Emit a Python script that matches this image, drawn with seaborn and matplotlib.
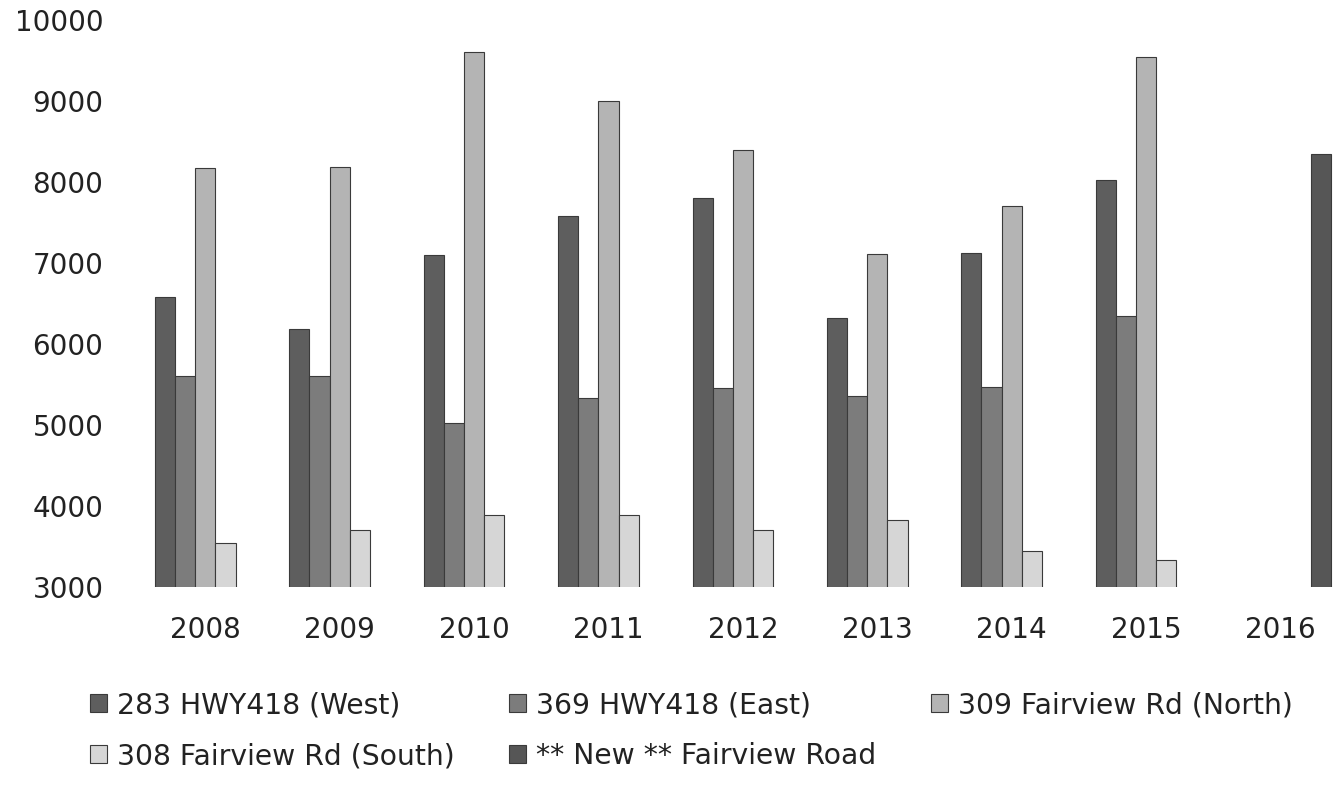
import numpy as np
import pandas as pd
import matplotlib
matplotlib.use('Agg')
import matplotlib.pyplot as plt
import seaborn as sns

# Dati
years = ['2008', '2009', '2010', '2011', '2012', '2013', '2014', '2015', '2016']
west = [6580, 6190, 7100, 7580, 7800, 6320, 7130, 8020, np.nan]
east = [5600, 5600, 5020, 5330, 5460, 5360, 5470, 6340, np.nan]
north = [8170, 8190, 9600, 9000, 8390, 7110, 7700, 9545, np.nan]
south = [3550, 3700, 3890, 3890, 3710, 3830, 3440, 3340, np.nan]
new_road = [np.nan] * 8 + [8345]

series_names = ['283 HWY418 (West)', '369 HWY418 (East)', '309 Fairview Rd (North)',
                '308 Fairview Rd (South)', '** New ** Fairview Road']
series_values = [west, east, north, south, new_road]
colors = ['#5e5e5e', '#7c7c7c', '#b4b4b4', '#d6d6d6', '#565656']

rows = []
for name, vals in zip(series_names, series_values):
    for y, v in zip(years, vals):
        rows.append({'Year': y, 'Series': name, 'Value': v})
df = pd.DataFrame(rows)

sns.set_style('white')
plt.rcParams['font.family'] = ['DejaVu Sans']

fig = plt.figure(figsize=(13.41, 7.88), dpi=100)
ax = fig.add_axes([0.103, 0.255, 0.897, 0.7196])

sns.barplot(data=df, x='Year', y='Value', hue='Series', hue_order=series_names,
            order=years, palette=colors, errorbar=None, width=0.75,
            edgecolor='#3a3a3a', linewidth=0.8, ax=ax)

ax.set_ylim(3000, 10000)
ax.set_xlim(-0.5, 8.45)
ax.set_yticks(range(3000, 10001, 1000))
ax.set_xlabel('')
ax.set_ylabel('')
ax.tick_params(axis='y', length=0, pad=25, labelsize=20, labelcolor='#222222')
ax.tick_params(axis='x', length=0, pad=21, labelsize=20, labelcolor='#222222')
sns.despine(ax=ax, left=True, bottom=True)

# legenda in basso, riempita per colonne -> riordino
handles, labels = ax.get_legend_handles_labels()
ax.get_legend().remove()
order = [0, 3, 1, 4, 2]
fig.legend([handles[i] for i in order], [labels[i] for i in order],
           loc='upper left', bbox_to_anchor=(0.048, 0.155), ncol=3, frameon=False,
           fontsize=20.3, handlelength=0.6, handleheight=0.6, handletextpad=0.35,
           columnspacing=1.95, labelspacing=0.82, labelcolor='#222222')

fig.savefig('out.png', dpi=100)
